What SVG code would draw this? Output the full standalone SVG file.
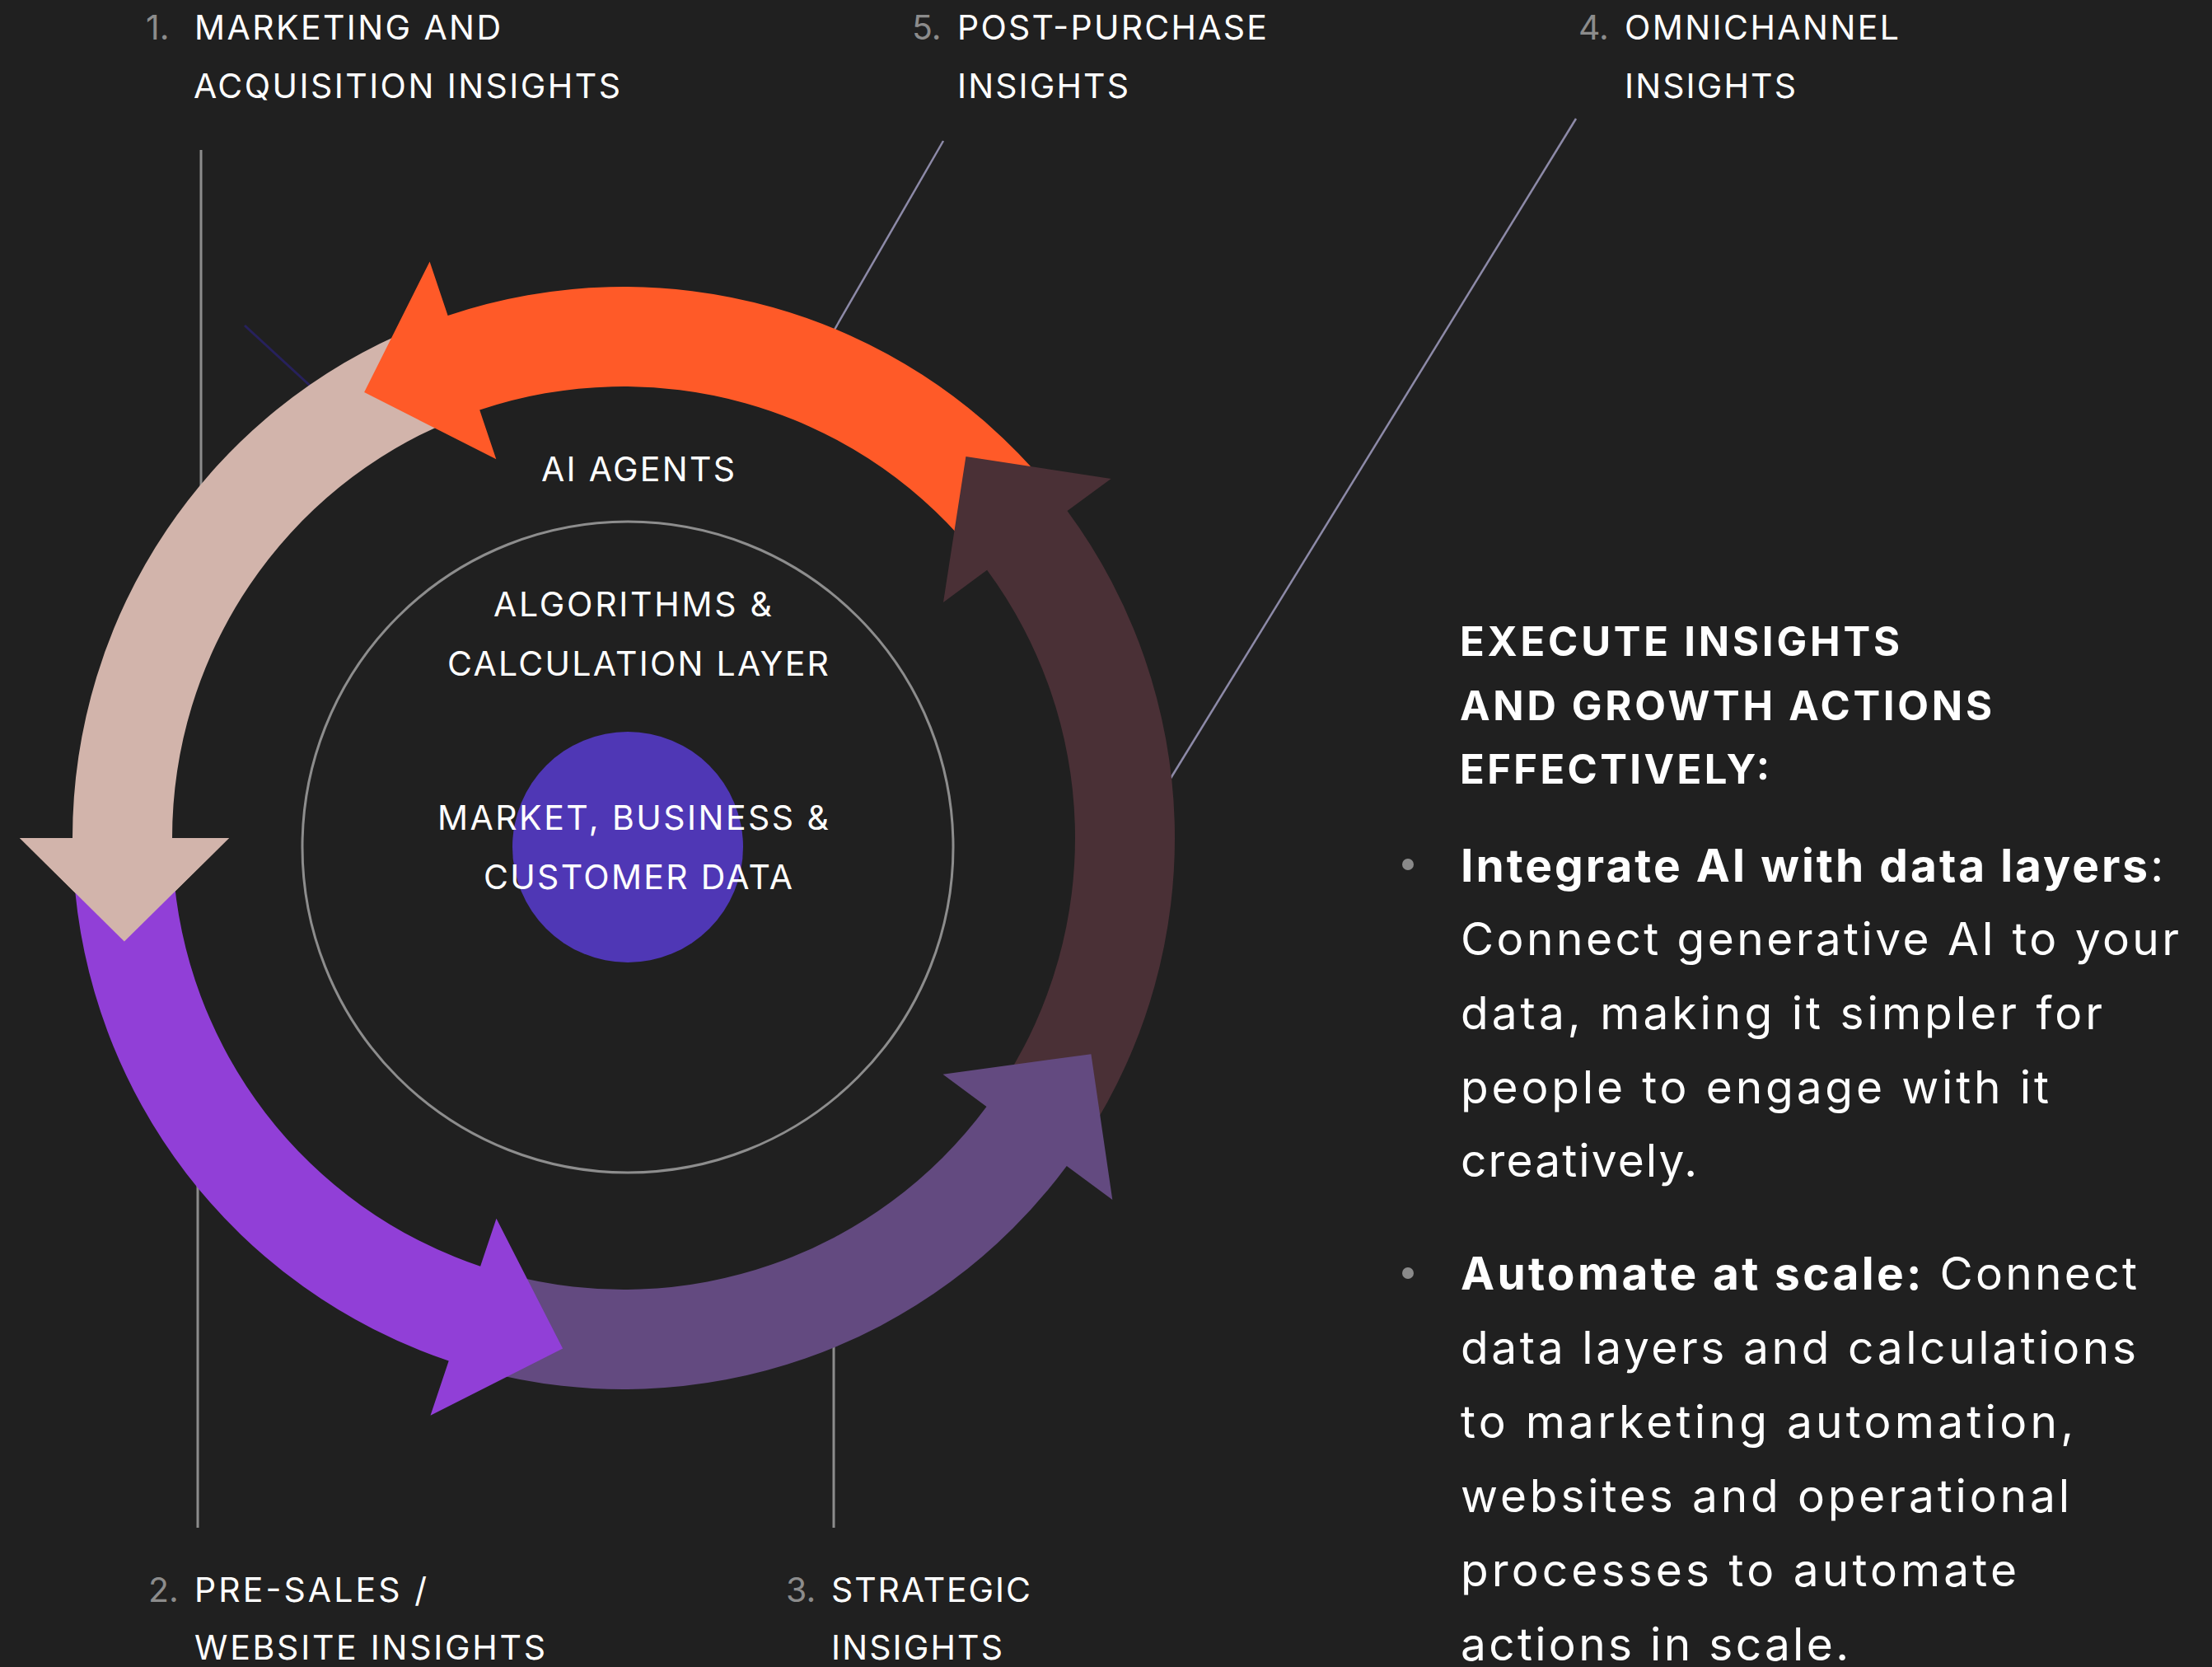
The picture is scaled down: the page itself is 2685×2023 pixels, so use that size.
<svg xmlns="http://www.w3.org/2000/svg" width="2685" height="2023" viewBox="0 0 2685 2023">
  <style>
    .t { font-family: Inter, "Liberation Sans", Arial, sans-serif; fill: #ffffff; }
    .lbl { font-size: 41px; }
    .num { fill: #8c8c8c; }
    .hd { font-size: 49px; font-weight: 700; }
    .bd { font-size: 55px; font-weight: 400; }
    .b { font-weight: 700; }
    .lead { stroke: #8c8c8c; stroke-width: 3; fill: none; }
    .lead-l { stroke: #8d8aa8; stroke-width: 2.5; fill: none; }
    .lead-d { stroke: #27215c; stroke-width: 3; fill: none; }
    .dot { fill: #8a8a8a; }
  </style>

  <rect width="2685" height="2023" fill="#202020"/>

  <!-- leader lines from the labels to the ring -->
  <g id="connectors">
    <line class="lead" x1="244" y1="182" x2="244" y2="700"/>
    <line class="lead" x1="240" y1="1350" x2="240" y2="1854"/>
    <line class="lead" x1="1012" y1="1580" x2="1012" y2="1854"/>
    <line class="lead-l" x1="1145" y1="171" x2="995" y2="431"/>
    <line class="lead-l" x1="1913" y1="144" x2="1401" y2="977"/>
    <line class="lead-d" x1="297" y1="395" x2="385" y2="476"/>
  </g>

  <!-- inner layers -->
  <g id="layer-calc">
    <circle cx="762" cy="1028" r="395" fill="none" stroke="#8d8d8d" stroke-width="3"/>
  </g>
  <g id="layer-data">
    <circle cx="762" cy="1028" r="140" fill="#4f37b5"/>
  </g>

  <!-- cycle of five curved arrows; each head hides the next tail -->
  <g id="cycle">
    <path id="arrow-acquisition" fill="#d2b4ab" d="M 506.4 396.7 A 669 669 0 0 0 88 1017 L 24 1017 L 150.9 1142.5 L 278 1017 L 209 1017 A 548 548 0 0 1 551.7 508.9 Z"/>
    <path id="arrow-postpurchase" fill="#ff5a28" d="M 1269.5 587.0 A 669 669 0 0 0 543.6 382.9 L 521.6 317.5 L 442.1 475.9 L 602.3 557.3 L 582.2 497.6 A 548 548 0 0 1 1176.8 664.7 Z"/>
    <path id="arrow-omnichannel" fill="#4a3036" d="M 1318.1 1381.3 A 669 669 0 0 0 1295.5 620.0 L 1348.6 580.9 L 1172.4 554.0 L 1145.0 731.0 L 1198.1 691.8 A 548 548 0 0 1 1216.6 1315.4 Z"/>
    <path id="arrow-strategic" fill="#634a80" d="M 583.9 1663.2 A 669 669 0 0 0 1294.8 1414.9 L 1350.3 1456.0 L 1324.4 1279.2 L 1144.5 1303.7 L 1197.5 1343.0 A 548 548 0 0 1 615.2 1546.3 Z"/>
    <path id="arrow-presales" fill="#913fd7" d="M 89.3 1057.8 A 669 669 0 0 0 544.7 1651.4 L 522.5 1717.8 L 683.1 1636.6 L 602.5 1478.8 L 583.1 1536.7 A 548 548 0 0 1 210.0 1050.5 Z"/>
    <!-- acquisition head sits above the pre-sales tail -->
    <polygon fill="#d2b4ab" points="24,1017 150.9,1142.5 278,1017"/>
  </g>

  <!-- layer captions -->
  <g id="caption-agents">
    <text class="t lbl" x="657" y="584" textLength="235" lengthAdjust="spacing">AI AGENTS</text>
  </g>
  <g id="caption-calc">
    <text class="t lbl" x="599" y="748" textLength="338" lengthAdjust="spacing">ALGORITHMS &amp;</text>
    <text class="t lbl" x="543" y="820" textLength="463" lengthAdjust="spacing">CALCULATION LAYER</text>
  </g>
  <g id="caption-data">
    <text class="t lbl" x="531" y="1007" textLength="475" lengthAdjust="spacing">MARKET, BUSINESS &amp;</text>
    <text class="t lbl" x="587" y="1079" textLength="375" lengthAdjust="spacing">CUSTOMER DATA</text>
  </g>

  <!-- numbered insight labels -->
  <g id="label-1">
    <text class="t lbl num" x="177" y="48">1.</text>
    <text class="t lbl" x="236" y="48" textLength="372" lengthAdjust="spacing">MARKETING AND</text>
    <text class="t lbl" x="235" y="119" textLength="518" lengthAdjust="spacing">ACQUISITION INSIGHTS</text>
  </g>
  <g id="label-5">
    <text class="t lbl num" x="1107" y="48">5.</text>
    <text class="t lbl" x="1162" y="48" textLength="376" lengthAdjust="spacing">POST-PURCHASE</text>
    <text class="t lbl" x="1162" y="119" textLength="208" lengthAdjust="spacing">INSIGHTS</text>
  </g>
  <g id="label-4">
    <text class="t lbl num" x="1916" y="48">4.</text>
    <text class="t lbl" x="1972" y="48" textLength="333" lengthAdjust="spacing">OMNICHANNEL</text>
    <text class="t lbl" x="1972" y="119" textLength="208" lengthAdjust="spacing">INSIGHTS</text>
  </g>
  <g id="label-2">
    <text class="t lbl num" x="180" y="1944">2.</text>
    <text class="t lbl" x="236" y="1944" textLength="282" lengthAdjust="spacing">PRE-SALES /</text>
    <text class="t lbl" x="236" y="2014" textLength="426" lengthAdjust="spacing">WEBSITE INSIGHTS</text>
  </g>
  <g id="label-3">
    <text class="t lbl num" x="954" y="1944">3.</text>
    <text class="t lbl" x="1009" y="1944" textLength="242" lengthAdjust="spacing">STRATEGIC</text>
    <text class="t lbl" x="1009" y="2014" textLength="208" lengthAdjust="spacing">INSIGHTS</text>
  </g>

  <!-- side panel -->
  <g id="panel-heading">
    <text class="t hd" x="1772" y="796" textLength="534" lengthAdjust="spacing">EXECUTE INSIGHTS</text>
    <text class="t hd" x="1772" y="874" textLength="646" lengthAdjust="spacing">AND GROWTH ACTIONS</text>
    <text class="t hd" x="1772" y="951" textLength="376" lengthAdjust="spacing">EFFECTIVELY:</text>
  </g>
  <g id="panel-bullet-1">
    <circle class="dot" cx="1709" cy="1049" r="7"/>
    <text class="t bd" x="1773" y="1070" textLength="853" lengthAdjust="spacing"><tspan class="b">Integrate AI with data layers</tspan>:</text>
    <text class="t bd" x="1773" y="1159" textLength="872" lengthAdjust="spacing">Connect generative AI to your</text>
    <text class="t bd" x="1773" y="1249" textLength="779" lengthAdjust="spacing">data, making it simpler for</text>
    <text class="t bd" x="1773" y="1339" textLength="714" lengthAdjust="spacing">people to engage with it</text>
    <text class="t bd" x="1773" y="1428" textLength="287" lengthAdjust="spacing">creatively.</text>
  </g>
  <g id="panel-bullet-2">
    <circle class="dot" cx="1709" cy="1545" r="7"/>
    <text class="t bd" x="1773" y="1565" textLength="821" lengthAdjust="spacing"><tspan class="b">Automate at scale:</tspan> Connect</text>
    <text class="t bd" x="1773" y="1655" textLength="820" lengthAdjust="spacing">data layers and calculations</text>
    <text class="t bd" x="1773" y="1745" textLength="744" lengthAdjust="spacing">to marketing automation,</text>
    <text class="t bd" x="1773" y="1835" textLength="739" lengthAdjust="spacing">websites and operational</text>
    <text class="t bd" x="1773" y="1925" textLength="675" lengthAdjust="spacing">processes to automate</text>
    <text class="t bd" x="1773" y="2015" textLength="471" lengthAdjust="spacing">actions in scale.</text>
  </g>
</svg>
